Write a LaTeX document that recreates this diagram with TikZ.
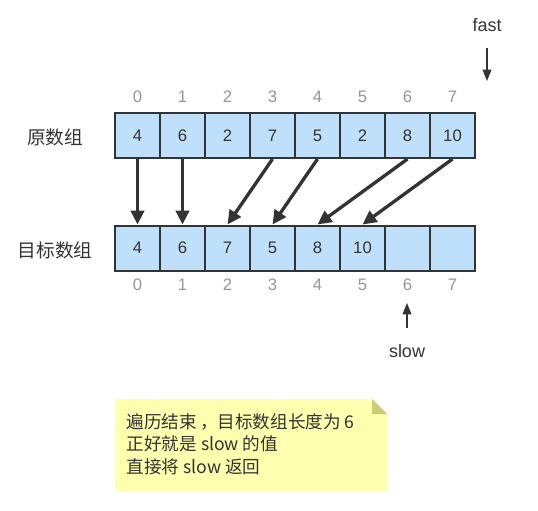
\documentclass[tikz,border=0pt]{standalone}
\usepackage{fontspec}
\setmainfont{Liberation Sans}
\newfontfamily\cjk{Noto Sans CJK SC}
\usetikzlibrary{arrows.meta}
\definecolor{cellblue}{RGB}{190,224,250}
\definecolor{linegray}{RGB}{51,51,51}
\definecolor{idxgray}{RGB}{150,150,150}
\definecolor{noteyellow}{RGB}{255,255,176}
\definecolor{notefold}{RGB}{204,204,120}

\tikzset{
  cell/.style={draw=linegray, fill=cellblue, line width=1.5pt, minimum width=33.75pt,
    minimum height=33.75pt, inner sep=0pt, text=linegray, font=\fontsize{12.5}{14}\selectfont},
  idx/.style={text=idxgray, font=\fontsize{12.5}{14}\selectfont},
  arrlabel/.style={text=linegray, font=\cjk\fontsize{14}{16}\selectfont},
  move/.style={draw=linegray, line width=2.5pt, -{Triangle[length=10.5pt, width=10pt]}},
  ptr/.style={draw=linegray, line width=1.1pt, -{Triangle[length=8.5pt, width=6.5pt]}}
}

\begin{document}
\begin{tikzpicture}[x=0.75pt, y=-0.75pt]
  \useasboundingbox (0,0) rectangle (538,510);

  % source array with indices
  \foreach \v [count=\i from 0] in {4,6,2,7,5,2,8,10}
  {
    \node[cell] (src\i) at (137.5+45*\i, 135.5) {\v};
    \node[idx] (sidx\i) at (137.5+45*\i, 97) {\i};
  }
  % target array with indices
  \foreach \v [count=\i from 0] in {4,6,7,5,8,10,{},{}}
  {
    \node[cell] (dst\i) at (137.5+45*\i, 248) {\v};
    \node[idx] (didx\i) at (137.5+45*\i, 285) {\i};
  }
  \node[arrlabel] (srclabel) at (55,137) {原数组};
  \node[arrlabel] (dstlabel) at (55,250) {目标数组};

  % moved elements
  \foreach \a/\b in {0/0,1/1,3/2,4/3,6/4,7/5}
    \draw[move] (src\a.south) -- (dst\b.north);

  % fast and slow pointers
  \node[text=linegray, font=\fontsize{13.5}{15}\selectfont] (fast) at (487,25) {fast};
  \coordinate (fasttip) at (487,81);
  \draw[ptr, shorten <=9pt] (fast) -- (fasttip);
  \node[text=linegray, font=\fontsize{13.5}{15}\selectfont] (slow) at (407,351) {slow};
  \coordinate (slowtip) at (407,303);
  \draw[ptr, shorten <=9pt] (slow) -- (slowtip);

  % note
  \fill[noteyellow] (115,399) -- (372,399) -- (387,414) -- (387,491) -- (115,491) -- cycle;
  \fill[notefold] (372,399) -- (387,414) -- (372,414) -- cycle;
  \node[anchor=west, align=left, text=linegray, font=\cjk\fontsize{13.2}{16.8}\selectfont]
    (note) at (122,444) {遍历结束\,，目标数组长度为 6\\正好就是 slow 的值\\直接将 slow 返回};
\end{tikzpicture}
\end{document}
